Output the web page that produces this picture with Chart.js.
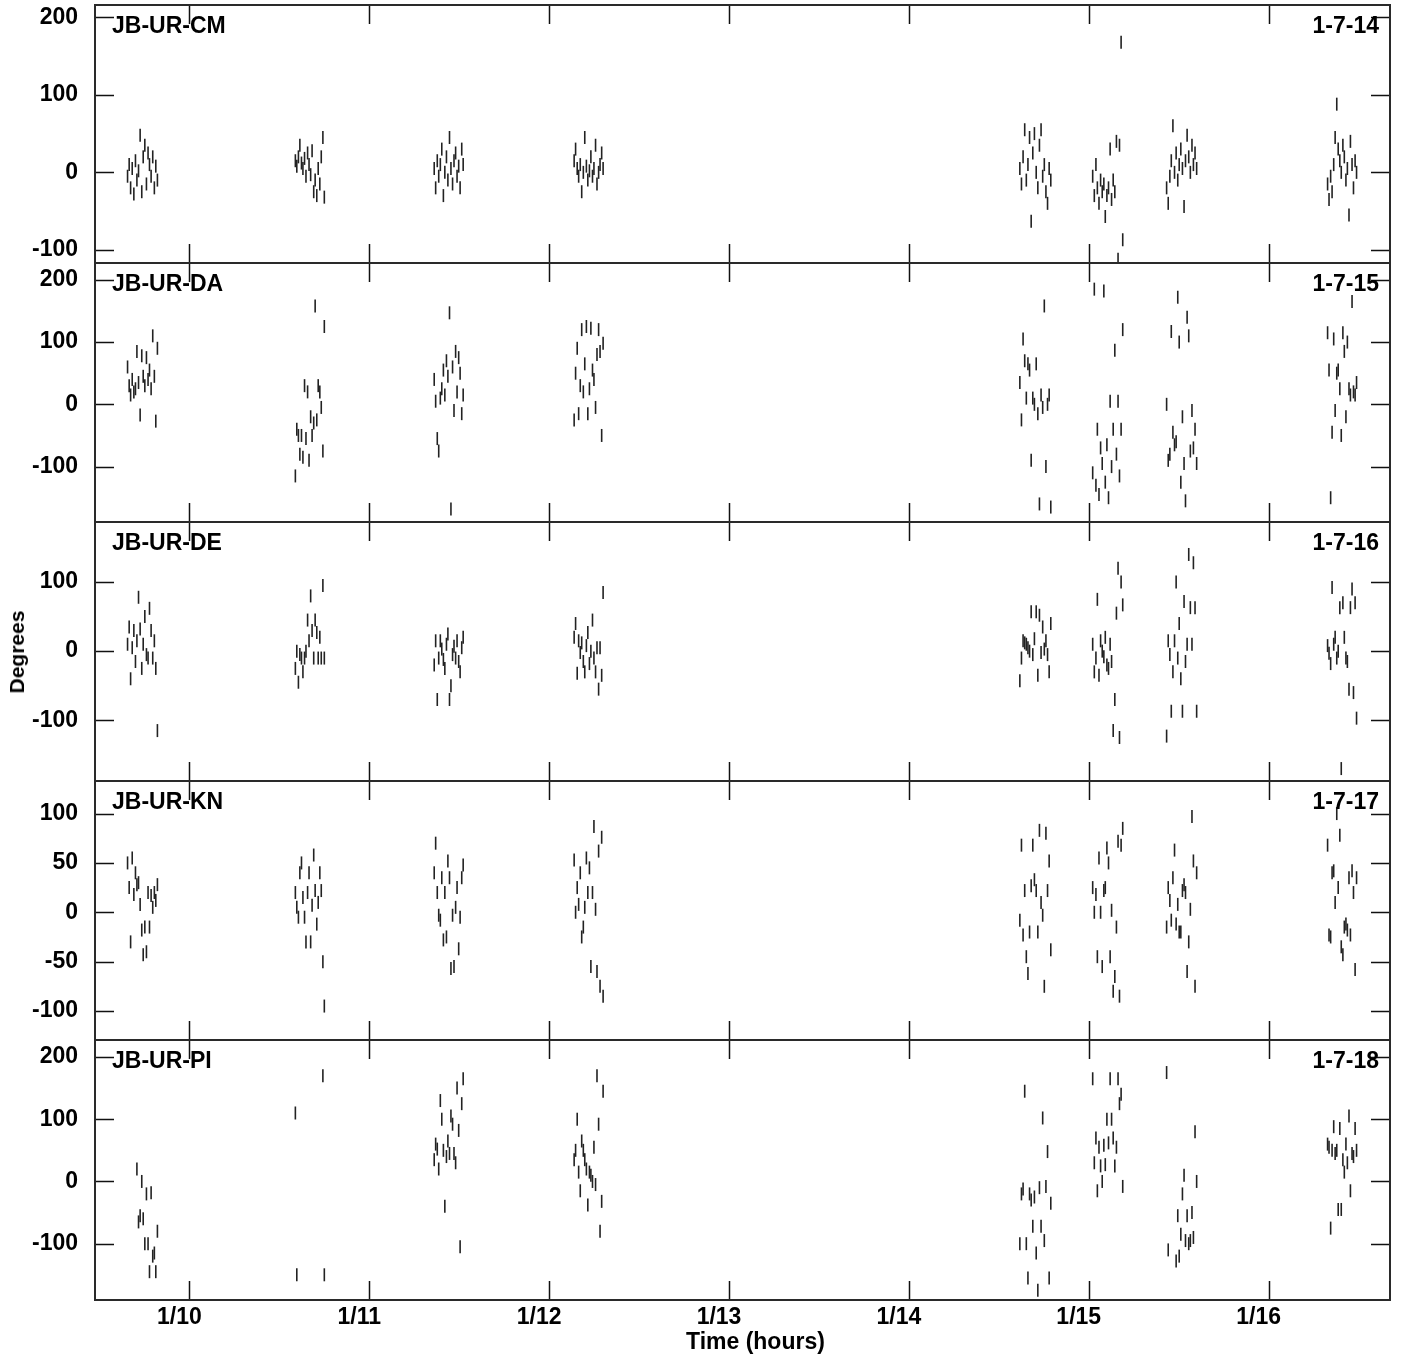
<!DOCTYPE html>
<html>
<head>
<meta charset="utf-8">
<script src="https://cdn.jsdelivr.net/npm/chart.js@4.4.1/dist/chart.umd.min.js"></script>
<style>
  body { margin: 0; background: #fff; width: 1404px; height: 1357px; position: relative; overflow: hidden; }
  canvas { position: absolute; left: 0; }
  .txt { position: absolute; font: bold 23px "Liberation Sans", Arial, sans-serif; color: #000; line-height: 26px; white-space: nowrap; z-index: 5; }
</style>
</head>
<body>
<div id="wrap"></div>
<div class="txt" style="left:686px;top:1328px;">Time (hours)</div>
<div class="txt" style="left:17px;top:652px;font-size:21px;transform:translate(-50%,-50%) rotate(-90deg);">Degrees</div>
<script>
'use strict';

// ─── Data ─────────────────────────────────────────────────────
// sample times (hours, day 1) of the eight scans
const scanTimes = [
  [9.656, 9.665, 9.673, 9.682, 9.691, 9.700, 9.708, 9.717, 9.726, 9.735, 9.743, 9.752, 9.761, 9.770, 9.778, 9.787, 9.796, 9.805, 9.813, 9.822],
  [10.589, 10.597, 10.606, 10.614, 10.623, 10.631, 10.640, 10.648, 10.657, 10.665, 10.674, 10.682, 10.691, 10.699, 10.708, 10.716, 10.725, 10.733, 10.742, 10.750],
  [11.361, 11.369, 11.378, 11.386, 11.395, 11.403, 11.412, 11.420, 11.429, 11.437, 11.446, 11.454, 11.463, 11.471, 11.480, 11.488, 11.497, 11.505, 11.514, 11.522],
  [12.139, 12.147, 12.156, 12.164, 12.173, 12.181, 12.190, 12.198, 12.207, 12.215, 12.224, 12.232, 12.241, 12.249, 12.258, 12.266, 12.275, 12.283, 12.292, 12.300],
  [14.617, 14.626, 14.635, 14.644, 14.653, 14.662, 14.671, 14.680, 14.689, 14.698, 14.708, 14.717, 14.726, 14.735, 14.744, 14.753, 14.762, 14.771, 14.780, 14.789],
  [15.022, 15.031, 15.040, 15.048, 15.057, 15.066, 15.075, 15.084, 15.092, 15.101, 15.110, 15.119, 15.127, 15.136, 15.145, 15.154, 15.163, 15.171, 15.180, 15.189],
  [15.433, 15.442, 15.451, 15.459, 15.468, 15.477, 15.486, 15.495, 15.503, 15.512, 15.521, 15.530, 15.538, 15.547, 15.556, 15.565, 15.574, 15.582, 15.591, 15.600],
  [16.328, 16.336, 16.345, 16.353, 16.362, 16.370, 16.379, 16.387, 16.396, 16.404, 16.413, 16.421, 16.430, 16.438, 16.447, 16.455, 16.464, 16.472, 16.481, 16.489]
];

// phases (degrees), one row per scan
const phaseCM = [
  [-5, 10, -20, 5, -28, 15, -10, 2, 48, -25, 20, 35, -15, 25, 10, -5, 20, -20, 8, -10],
  [15, 8, 20, 35, 12, 5, 18, -5, 25, 10, -3, 28, -25, -10, -30, 5, -15, 20, 45, -32],
  [5, -20, 15, -5, 10, 30, -30, 0, 20, -10, 45, 5, -15, 15, 25, -5, 8, -20, 30, 10],
  [15, 30, 5, -5, 10, -25, 0, 45, 8, -10, 2, 20, -5, 5, 35, -15, 0, 10, 25, 5],
  [5, -15, 20, 55, -10, 10, 45, -63, 25, 50, 0, -20, 35, 55, -5, 10, -25, -40, 5, -10],
  [-5, -30, 10, -20, -40, -10, -25, -15, -57, -30, -20, 30, -35, -10, -25, 40, -112, 35, 168, -87],
  [-20, -40, -5, 15, 60, 0, 25, -10, 10, 30, 5, -44, 15, 48, 20, 0, 35, 10, 25, 5],
  [-15, -35, -5, -25, 10, 45, 88, 30, 15, 0, 35, 20, -10, 5, -55, 40, 10, -20, 15, 0]
];
const phaseDA = [
  [60, 30, 15, 40, 20, 25, 85, 35, -17, 78, 45, 30, 75, 40, 55, 25, 110, 45, -27, 90],
  [-115, -40, -50, -80, -50, -85, 30, -55, 20, -90, -20, -50, -30, 158, -25, 30, 20, -5, -75, 125],
  [40, 5, -55, -75, 10, 25, 55, 15, 70, 45, 147, -168, 60, -10, 85, 20, 75, 50, -15, 15],
  [-25, 50, 90, -15, 30, 120, 20, 65, 125, -15, 25, 122, 55, 40, -5, 80, 120, 85, -50, 98],
  [35, -25, 105, 70, 10, 65, 55, -90, 10, 0, 65, -15, -160, 15, -5, 158, -100, 0, 15, -165],
  [-110, 185, -130, -40, -145, -70, -95, 182, -125, -65, -150, 5, -100, -40, 87, -80, 5, -115, -40, 120],
  [0, -90, -80, 117, -45, -65, -60, 172, 100, -125, -20, -95, -155, 140, 110, -75, -10, -70, -40, -95],
  [115, 55, -150, -45, 105, -10, 50, 55, 25, -50, 115, 85, -20, 100, 25, 15, 165, 20, 15, 35]
];
const phaseDE = [
  [10, 35, -40, 5, 30, -15, 15, 78, 32, -25, 10, 50, -5, -10, 62, 30, -10, 15, -25, -115],
  [-25, 0, -45, -5, -10, -30, -10, 0, 45, 15, 80, 30, -10, 45, 27, -10, 20, -10, 95, -10],
  [-20, 15, -70, -10, 15, 3, -12, -25, 10, 25, -70, -50, -5, 7, -10, 15, -15, -30, 5, 20],
  [20, 40, -32, 15, -2, 12, -15, -30, 8, 27, -18, 0, 45, -10, -30, 5, -55, 5, -35, 85],
  [-43, -10, 15, 12, 10, 5, 0, 57, -5, 18, 57, -35, 52, -2, 35, 3, 15, -5, -30, 40],
  [10, -30, -10, 75, -35, 15, 0, -8, 20, -20, -25, 10, -15, -115, -70, 55, 120, -125, 100, 67],
  [-123, 15, -5, -87, -30, 15, 100, -10, 40, -40, -87, 72, -15, 10, 140, 63, 10, 128, 63, -87],
  [8, -3, -18, 92, 10, 20, -10, 0, 63, -170, 70, 20, -10, -15, -55, 63, 90, -60, 70, -97]
];
const phaseKN = [
  [50, 25, -30, 55, 18, 40, 28, 30, 8, -18, -43, -15, -40, 20, -15, 17, 5, 20, 12, 28],
  [20, 5, -5, 40, 50, 15, -5, -30, 20, 40, -30, 7, 58, 22, -12, 10, 40, 22, -50, -95],
  [40, 70, 20, -3, -8, 35, -28, 20, -25, 52, 35, -57, -3, -55, 5, 25, -37, -5, 35, 48],
  [53, 0, 25, 8, 40, -25, -15, 5, 55, 20, 45, -55, 20, 87, 3, -60, 62, -75, 76, -85],
  [-8, 68, -23, 22, -45, -62, -20, 27, 68, 33, 22, -20, 83, 10, -3, -75, 80, 22, 52, -38],
  [25, 0, 18, -45, 55, 0, -55, 22, 25, 65, 50, -45, 2, -80, -65, -15, 72, -85, 68, 85],
  [-15, 25, 12, -8, 35, 63, -12, 8, -20, -20, 22, 28, 20, -60, -30, 3, 97, 52, -75, 40],
  [68, -23, -25, 40, 42, 10, 100, 25, 78, -35, -43, -15, -12, -18, 35, -23, 42, 20, -58, 35]
];
const phasePI = [
  [null, null, null, null, null, null, 20, -65, -55, 0, -60, -100, -20, -100, -145, -18, -120, -115, -145, -80],
  [110, -150, null, null, null, null, null, null, null, null, null, null, null, null, null, null, null, null, 170, -150],
  [35, 60, 52, 20, 130, 100, 50, -40, 40, 65, 45, 105, 92, 45, 30, 150, 82, -105, 125, 165],
  [35, 50, 100, 15, -15, 65, 50, 35, 20, -38, 15, 10, 0, 55, -5, 170, 92, -80, -32, 145],
  [-100, -20, -12, 145, -100, -155, -20, -30, -72, -25, -115, -175, -10, -72, 102, -95, -8, 48, -155, -35],
  [165, 30, 70, -15, 55, 25, 0, 58, 27, 100, 62, 165, 100, 70, 25, 55, 165, 125, 140, -8],
  [175, -110, null, null, null, null, -128, -55, -120, -85, -20, 10, -95, -55, -100, -95, -50, -90, 80, 0],
  [60, 55, -75, 50, 88, 45, 50, -45, 85, -45, 35, 15, 60, 30, 105, -15, 45, 40, 85, 50]
];

const baselines  = ['JB-UR-CM', 'JB-UR-DA', 'JB-UR-DE', 'JB-UR-KN', 'JB-UR-PI'];
const plotIds    = ['1-7-14', '1-7-15', '1-7-16', '1-7-17', '1-7-18'];
const hourTicks  = [10, 11, 12, 13, 14, 15, 16];
const yTickSets  = [[-100, 0, 100, 200], [-100, 0, 100, 200], [-100, 0, 100], [-100, -50, 0, 50, 100], [-100, 0, 100, 200]];
const yRanges    = [[-117, 216], [-189, 227], [-188, 187], [-129.4, 133], [-190.5, 227.3]];
const allPhases  = [phaseCM, phaseDA, phaseDE, phaseKN, phasePI];

// ─── Layout ───────────────────────────────────────────────────
const panelTop    = [5, 263, 522, 781, 1040];
const panelHeight = [258, 259, 259, 259, 260];
const PAD = 26, XAXIS_H = 57;
const FONT = { family: '"Liberation Sans", Arial, sans-serif', size: 23, weight: 'bold' };

function toPoints(phases) {
  const pts = [];
  scanTimes.forEach((ts, i) => ts.forEach((t, j) => {
    const v = phases[i][j];
    if (v !== null) pts.push({ x: t, y: v });
  }));
  return pts;
}

// inward tick marks + frame, AIPS style
const framePlugin = {
  id: 'frame',
  afterDraw(chart, args, opts) {
    const { ctx, chartArea: a, scales: { x, y } } = chart;
    const TL = 19;
    ctx.save();
    ctx.strokeStyle = '#111';
    ctx.lineWidth = 1.5;
    ctx.beginPath();
    hourTicks.forEach(h => {
      const px = Math.round(x.getPixelForValue(h)) + 0.5;
      ctx.moveTo(px, a.top);    ctx.lineTo(px, a.top + TL);
      ctx.moveTo(px, a.bottom); ctx.lineTo(px, a.bottom - TL);
    });
    opts.yTicks.forEach(v => {
      const py = Math.round(y.getPixelForValue(v)) + 0.5;
      ctx.moveTo(a.left, py);  ctx.lineTo(a.left + TL, py);
      ctx.moveTo(a.right, py); ctx.lineTo(a.right - TL, py);
    });
    ctx.stroke();
    ctx.strokeStyle = '#2a2a2a';
    ctx.lineWidth = 2;
    ctx.strokeRect(a.left, a.top, a.right - a.left, a.bottom - a.top);
    ctx.restore();
  }
};

// ─── Build panels ─────────────────────────────────────────────
const wrap = document.getElementById('wrap');

baselines.forEach((name, i) => {
  const last = i === baselines.length - 1;
  const h = PAD + panelHeight[i] + (last ? XAXIS_H : PAD);
  const cv = document.createElement('canvas');
  cv.width = 1404; cv.height = h;
  cv.style.top = (panelTop[i] - PAD) + 'px';
  cv.style.width = '1404px'; cv.style.height = h + 'px';
  wrap.appendChild(cv);

  new Chart(cv, {
    type: 'scatter',
    data: {
      datasets: [{
        data: toPoints(allPhases[i]),
        pointStyle: 'line',
        rotation: 90,
        radius: 6.5,
        hoverRadius: 6.5,
        borderWidth: 1.6,
        borderColor: '#222',
        backgroundColor: '#222'
      }]
    },
    options: {
      responsive: false,
      animation: false,
      devicePixelRatio: 1,
      events: [],
      layout: { padding: { left: 0, right: 14, top: PAD, bottom: last ? 0 : PAD } },
      plugins: {
        legend: { display: false },
        tooltip: { enabled: false },
        frame: { yTicks: yTickSets[i] }
      },
      scales: {
        x: {
          type: 'linear',
          min: 9.475, max: 16.675,
          display: last,
          afterBuildTicks: s => { s.ticks = hourTicks.map(v => ({ value: v })); },
          afterFit: s => { s.height = last ? XAXIS_H : 0; },
          grid: { display: false },
          border: { display: false },
          ticks: { font: FONT, color: '#000', padding: -4, labelOffset: -10, maxRotation: 0, autoSkip: false,
                   callback: v => '1/' + v }
        },
        y: {
          min: yRanges[i][0], max: yRanges[i][1],
          afterBuildTicks: s => { s.ticks = yTickSets[i].map(v => ({ value: v })); },
          afterFit: s => { s.width = 95; },
          grid: { display: false },
          border: { display: false },
          ticks: { font: FONT, color: '#000', padding: 9, autoSkip: false }
        }
      }
    },
    plugins: [framePlugin]
  });

  const l = document.createElement('div');
  l.className = 'txt';
  l.style.left = '112px';
  l.style.top = (panelTop[i] + 20 - 13) + 'px';
  l.textContent = name;
  document.body.appendChild(l);

  const r = document.createElement('div');
  r.className = 'txt';
  r.style.right = '25px';
  r.style.top = (panelTop[i] + 20 - 13) + 'px';
  r.textContent = plotIds[i];
  document.body.appendChild(r);
});
</script>
</body>
</html>
